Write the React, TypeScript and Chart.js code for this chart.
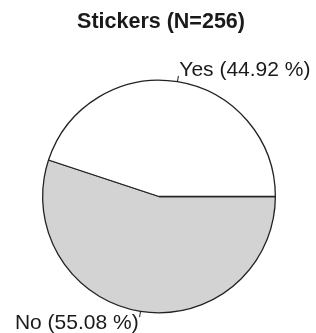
import React, { useEffect, useRef } from "react";
import { Chart, registerables } from "chart.js";

Chart.register(...registerables);

const title = "Stickers (N=256)";
const categories = ["No", "Yes"];
const counts = [141, 115];
const percentLabels = ["55.08 %", "44.92 %"];
const sliceColors = ["#d3d3d3", "#ffffff"];

const labelPlugin = {
  id: "rpieLabels",
  afterDraw(chart: any) {
    const ctx = chart.ctx;
    const meta = chart.getDatasetMeta(0);
    ctx.save();
    // title
    ctx.fillStyle = "#1a1a1a";
    ctx.font = "bold 21.5px 'Liberation Sans', Arial, sans-serif";
    ctx.textAlign = "center";
    ctx.textBaseline = "middle";
    ctx.fillText(title, 161, 22);
    ctx.font = "21px 'Liberation Sans', Arial, sans-serif";
    meta.data.forEach((arc: any, i: number) => {
      const mid = (arc.startAngle + arc.endAngle) / 2;
      const r = arc.outerRadius;
      const cx = arc.x;
      const cy = arc.y;
      const c = Math.cos(mid);
      const s = Math.sin(mid);
      ctx.strokeStyle = "#1a1a1a";
      ctx.lineWidth = 1;
      ctx.beginPath();
      ctx.moveTo(cx + c * r, cy + s * r);
      ctx.lineTo(cx + c * r * 1.05, cy + s * r * 1.05);
      ctx.stroke();
      ctx.textAlign = c > 0 ? "left" : "right";
      ctx.textBaseline = "middle";
      ctx.fillText(
        `${categories[i]} (${percentLabels[i]})`,
        cx + c * r * 1.1,
        cy + s * r * 1.1
      );
    });
    ctx.restore();
  },
};

export default function App() {
  const ref = useRef<HTMLCanvasElement>(null);
  useEffect(() => {
    const chart = new Chart(ref.current as HTMLCanvasElement, {
      type: "pie",
      data: {
        labels: categories,
        datasets: [
          {
            data: counts,
            backgroundColor: sliceColors,
            borderColor: "#222222",
            borderWidth: 1.3,
          },
        ],
      },
      options: {
        responsive: false,
        animation: false,
        devicePixelRatio: 1,
        rotation: 90,
        layout: { padding: { left: 42, right: 40, top: 79.5, bottom: 19.5 } },
        plugins: {
          legend: { display: false },
          title: { display: false },
          tooltip: { enabled: false },
        },
      },
      plugins: [labelPlugin],
    });
    return () => chart.destroy();
  }, []);
  return (
    <div style={{ position: "fixed", left: 0, top: 0, width: 316, height: 333, background: "#fff" }}>
      <canvas ref={ref} width={316} height={333} style={{ display: "block" }} />
    </div>
  );
}
